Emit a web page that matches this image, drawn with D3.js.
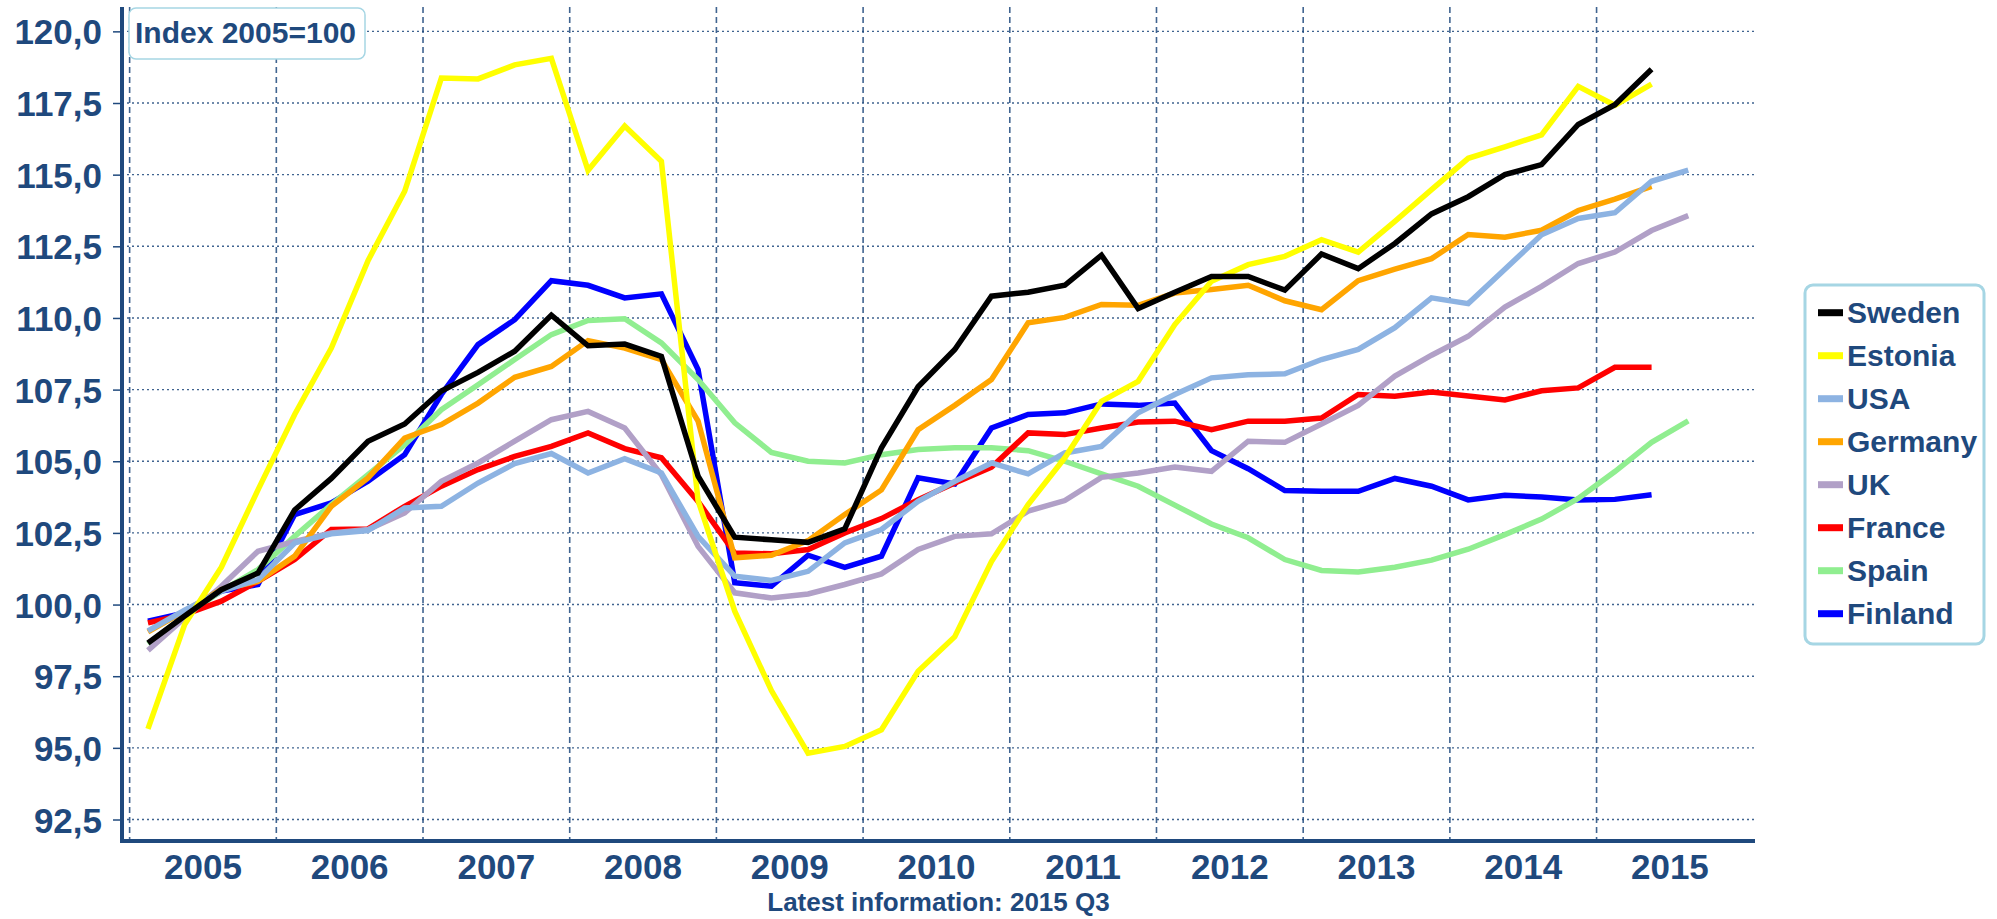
<!DOCTYPE html>
<html>
<head>
<meta charset="utf-8">
<script src="https://cdn.jsdelivr.net/npm/d3@7"></script>
<style>
  body { margin: 0; background: #ffffff; }
  text { font-family: "Liberation Sans", Arial, sans-serif; font-weight: bold; fill: #1f497d; }
</style>
</head>
<body>
<div class="chart"></div>
<script>
// Define SVG area dimensions
var svgWidth = 1997;
var svgHeight = 919;

// Years on the x axis, quarterly data starting 2005 Q1
var years = [2005, 2006, 2007, 2008, 2009, 2010, 2011, 2012, 2013, 2014, 2015];
var yTicks = [92.5, 95, 97.5, 100, 102.5, 105, 107.5, 110, 112.5, 115, 117.5, 120];

// Series values, index 2005=100
var sweden = [98.66, 99.6, 100.52, 101.1, 103.3, 104.4, 105.7, 106.3, 107.45, 108.1, 108.84, 110.1,
  109.03, 109.09, 108.66, 104.48, 102.35, 102.26, 102.17, 102.64, 105.47, 107.6, 108.9, 110.76,
  110.9, 111.14, 112.19, 110.33, 110.9, 111.45, 111.45, 110.97, 112.23, 111.72, 112.6, 113.63,
  114.23, 115.0, 115.35, 116.75, 117.44, 118.68];
var estonia = [95.66, 99.3, 101.3, 104.0, 106.63, 108.95, 112.0, 114.42, 118.37, 118.34, 118.83, 119.06,
  115.15, 116.7, 115.47, 103.63, 99.77, 97.0, 94.81, 95.05, 95.63, 97.67, 98.88, 101.5,
  103.49, 105.12, 107.09, 107.79, 109.77, 111.28, 111.86, 112.15, 112.73, 112.3, 113.37, 114.48,
  115.57, 115.97, 116.39, 118.08, 117.42, 118.16];
var usa = [99.08, 99.8, 100.47, 100.87, 102.15, 102.47, 102.58, 103.37, 103.43, 104.24, 104.92, 105.27,
  104.59, 105.09, 104.59, 102.38, 100.99, 100.84, 101.16, 102.15, 102.62, 103.6, 104.3, 104.94,
  104.56, 105.29, 105.52, 106.69, 107.33, 107.91, 108.02, 108.05, 108.55, 108.9, 109.66, 110.7,
  110.5, 111.7, 112.9, 113.47, 113.67, 114.77, 115.16];
var germany = [99.05, 99.77, 100.52, 100.81, 101.69, 103.43, 104.42, 105.81, 106.28, 107.03, 107.93, 108.31,
  109.21, 108.95, 108.55, 106.4, 101.63, 101.72, 102.23, 103.14, 104.0, 106.1, 106.95, 107.85,
  109.83, 110.02, 110.47, 110.44, 110.87, 110.99, 111.14, 110.6, 110.29, 111.3, 111.7, 112.07,
  112.91, 112.82, 113.06, 113.75, 114.15, 114.59];
var uk = [98.4, 99.53, 100.64, 101.86, 102.2, 102.5, 102.62, 103.2, 104.3, 104.94, 105.7, 106.45,
  106.74, 106.16, 104.53, 102.03, 100.41, 100.23, 100.37, 100.7, 101.07, 101.92, 102.38, 102.47,
  103.26, 103.63, 104.44, 104.59, 104.8, 104.65, 105.7, 105.66, 106.3, 106.95, 107.97, 108.7,
  109.36, 110.38, 111.1, 111.9, 112.3, 113.05, 113.57];
var france = [99.36, 99.65, 100.12, 100.81, 101.57, 102.62, 102.64, 103.43, 104.13, 104.71, 105.17, 105.52,
  105.99, 105.44, 105.12, 103.6, 101.8, 101.77, 101.92, 102.5, 103.0, 103.66, 104.24, 104.79,
  105.99, 105.93, 106.16, 106.37, 106.4, 106.1, 106.4, 106.4, 106.51, 107.33, 107.27, 107.42,
  107.28, 107.14, 107.46, 107.56, 108.28, 108.28];
var spain = [98.63, 99.6, 100.47, 101.22, 102.38, 103.49, 104.53, 105.58, 106.8, 107.67, 108.55, 109.42,
  109.91, 109.97, 109.13, 107.85, 106.34, 105.31, 105.0, 104.94, 105.23, 105.41, 105.47, 105.47,
  105.37, 105.0, 104.56, 104.13, 103.47, 102.81, 102.33, 101.57, 101.19, 101.14, 101.3, 101.55,
  101.93, 102.44, 102.98, 103.7, 104.64, 105.66, 106.41];
var finland = [99.42, 99.71, 100.47, 100.7, 103.14, 103.55, 104.3, 105.23, 107.33, 109.07, 109.94, 111.3,
  111.14, 110.7, 110.84, 108.2, 100.76, 100.64, 101.72, 101.3, 101.69, 104.42, 104.21, 106.16,
  106.63, 106.69, 107.0, 106.95, 107.03, 105.37, 104.74, 103.98, 103.95, 103.95, 104.4, 104.13,
  103.65, 103.81, 103.75, 103.65, 103.67, 103.83];

var seriesNames = ["Sweden", "Estonia", "USA", "Germany", "UK", "France", "Spain", "Finland"];
var seriesColors = ["#000000", "#ffff00", "#8db3e2", "#ffa500", "#b1a0c7", "#ff0000", "#90ee90", "#0000ff"];
var seriesValues = [sweden, estonia, usa, germany, uk, france, spain, finland];

var textColor = "#1f497d";

var svg = d3.select(".chart")
  .append("svg")
  .attr("width", svgWidth)
  .attr("height", svgHeight);

// Scales: x in fractional years, y in index points
var xScale = d3.scaleLinear()
  .domain([2004.948, 2016.08])
  .range([122, 1755]);

var yScale = d3.scaleLinear()
  .domain([91.75, 120.85])
  .range([841, 7]);

// quarter i -> middle of that quarter
var quarterX = i => xScale(years[0] + (i + 0.5) / 4);

// horizontal dotted grid
svg.append("g")
  .selectAll("line")
  .data(yTicks)
  .enter()
  .append("line")
  .attr("x1", xScale.range()[0])
  .attr("x2", xScale.range()[1])
  .attr("y1", d => yScale(d))
  .attr("y2", d => yScale(d))
  .attr("stroke", textColor)
  .attr("stroke-opacity", 0.85)
  .attr("stroke-width", 1.4)
  .attr("stroke-dasharray", "2,3");

// vertical dashed year lines, running a little below the axis as ticks
svg.append("g")
  .selectAll("line")
  .data(years)
  .enter()
  .append("line")
  .attr("x1", d => xScale(d))
  .attr("x2", d => xScale(d))
  .attr("y1", 7)
  .attr("y2", 847)
  .attr("stroke", textColor)
  .attr("stroke-opacity", 0.85)
  .attr("stroke-width", 1.6)
  .attr("stroke-dasharray", "6,4");

// y axis with tick labels like "100,0"
var leftAxis = d3.axisLeft(yScale)
  .tickValues(yTicks)
  .tickSize(9)
  .tickPadding(11)
  .tickFormat(d => d3.format(".1f")(d).replace(".", ","));

var yAxisGroup = svg.append("g")
  .attr("transform", "translate(122,0)")
  .call(leftAxis);
yAxisGroup.select(".domain").remove();
yAxisGroup.selectAll("line").attr("stroke", textColor).attr("stroke-width", 1.5);
yAxisGroup.selectAll("text")
  .style("font-size", "35px")
  .attr("fill", textColor)
  .attr("dy", "0.36em");

// axis lines
svg.append("line")
  .attr("x1", 122).attr("x2", 122)
  .attr("y1", 7).attr("y2", 843)
  .attr("stroke", textColor)
  .attr("stroke-width", 4);
svg.append("line")
  .attr("x1", 120).attr("x2", 1755)
  .attr("y1", 841).attr("y2", 841)
  .attr("stroke", textColor)
  .attr("stroke-width", 4);

// year labels centred in each year
svg.append("g")
  .selectAll("text")
  .data(years)
  .enter()
  .append("text")
  .attr("x", d => xScale(d + 0.5))
  .attr("y", 879)
  .attr("text-anchor", "middle")
  .style("font-size", "35px")
  .text(d => d);

svg.append("text")
  .attr("x", (xScale.range()[0] + xScale.range()[1]) / 2)
  .attr("y", 911)
  .attr("text-anchor", "middle")
  .style("font-size", "26px")
  .text("Latest information: 2015 Q3");

// lines, drawn in reverse legend order so Sweden ends up on top
var line = d3.line()
  .x((d, i) => quarterX(i))
  .y(d => yScale(d));

var drawOrder = d3.range(seriesNames.length).reverse();
svg.append("g")
  .selectAll("path")
  .data(drawOrder)
  .enter()
  .append("path")
  .attr("d", k => line(seriesValues[k]))
  .attr("fill", "none")
  .attr("stroke", k => seriesColors[k])
  .attr("stroke-width", 5.5);

// "Index 2005=100" box
svg.append("rect")
  .attr("x", 129).attr("y", 8)
  .attr("width", 236).attr("height", 51)
  .attr("rx", 7)
  .attr("fill", "#ffffff")
  .attr("stroke", "#a6d6e4")
  .attr("stroke-width", 1.5);
svg.append("text")
  .attr("x", 135)
  .attr("y", 43)
  .style("font-size", "30px")
  .text("Index 2005=100");

// legend
var legend = svg.append("g");
legend.append("rect")
  .attr("x", 1805).attr("y", 285)
  .attr("width", 179).attr("height", 359)
  .attr("rx", 8)
  .attr("fill", "#ffffff")
  .attr("stroke", "#a6d6e4")
  .attr("stroke-width", 3);

var legendItems = legend.selectAll(".item")
  .data(seriesNames)
  .enter()
  .append("g")
  .attr("class", "item")
  .attr("transform", (d, i) => `translate(0, ${322.7 + i * 43})`);

legendItems.append("line")
  .attr("x1", 1818).attr("x2", 1843)
  .attr("y1", -10).attr("y2", -10)
  .attr("stroke", (d, i) => seriesColors[i])
  .attr("stroke-width", 7);

legendItems.append("text")
  .attr("x", 1847)
  .attr("y", 0)
  .style("font-size", "30px")
  .text(d => d);
</script>
</body>
</html>
